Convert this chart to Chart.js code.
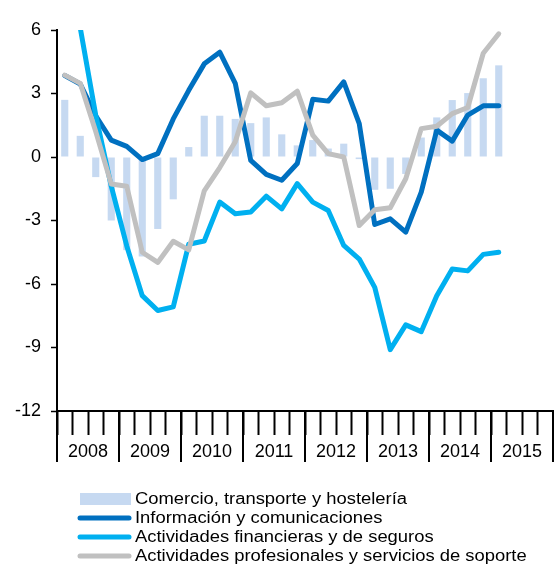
<!DOCTYPE html>
<html>
<head>
<meta charset="utf-8">
<script src="https://cdn.jsdelivr.net/npm/chart.js@4/dist/chart.umd.min.js"></script>
<style>
  html, body { margin: 0; padding: 0; background: #fff; }
  #wrap { width: 554px; height: 568px; position: relative; }
</style>
</head>
<body>
<div id="wrap"><canvas id="chart"></canvas></div>
<script>
// quarterly data, 2008 T1 .. 2015 T1
const years = ['2008', '2009', '2010', '2011', '2012', '2013', '2014', '2015'];
const quarters = years.flatMap(y => ['T1', 'T2', 'T3', 'T4'].map(q => y + q));

const comercio = [2.7, 1.0, -0.95, -3.0, -4.4, -4.7, -3.4, -2.0, 0.47, 1.95, 1.95, 1.8, 1.6, 1.87, 1.07, 0.55, 0.8, 0.4, 0.63, -0.1, -1.55, -1.5, -0.8, 0.92, 1.87, 2.69, 3.02, 3.72, 4.33];
const informacion = [3.85, 3.45, 1.95, 0.8, 0.5, -0.12, 0.16, 1.8, 3.15, 4.4, 4.95, 3.48, -0.16, -0.82, -1.1, -0.31, 2.73, 2.64, 3.55, 1.58, -3.19, -2.92, -3.55, -1.66, 1.27, 0.75, 1.98, 2.42, 2.42];
const financieras = [null, 6.1, 1.97, -1.38, -4.2, -6.55, -7.25, -7.08, -4.12, -3.97, -2.13, -2.68, -2.6, -1.85, -2.45, -1.26, -2.13, -2.53, -4.18, -4.82, -6.16, -9.1, -7.93, -8.25, -6.55, -5.29, -5.38, -4.6, -4.5];
const profesionales = [3.87, 3.48, 1.2, -1.28, -1.38, -4.5, -4.98, -3.98, -4.39, -1.6, -0.5, 0.72, 3.03, 2.42, 2.56, 3.11, 1.03, 0.16, 0.0, -3.24, -2.49, -2.4, -1.03, 1.34, 1.45, 2.05, 2.34, 4.9, 5.82];

const yTicks = { min: -12, max: 6, step: 3 };

const COLOURS = {
  comercio: '#c6d9f1',
  informacion: '#0070c0',
  financieras: '#00b0f0',
  profesionales: '#c0c0c0',
};

const FONT = '"Liberation Sans", Arial, sans-serif';

// long ticks at year boundaries + legend underneath
const extrasPlugin = {
  id: 'extras',
  afterDraw(chart) {
    const ctx = chart.ctx;
    const x = chart.scales.x;
    const bottom = chart.chartArea.bottom;
    ctx.save();
    ctx.strokeStyle = '#000';
    ctx.lineWidth = 2;
    for (let k = 0; k <= years.length; k++) {
      const px = Math.round(x.getPixelForValue(k * 4 - 0.5));
      ctx.beginPath();
      ctx.moveTo(px, bottom);
      ctx.lineTo(px, bottom + 51);
      ctx.stroke();
    }

    const rows = [499, 518, 537, 556];
    const ds = chart.data.datasets;
    ctx.font = '16px ' + FONT;
    ctx.textBaseline = 'middle';
    ds.forEach((d, i) => {
      const y = rows[i];
      if (d.type === 'bar') {
        ctx.fillStyle = d.backgroundColor;
        ctx.fillRect(80, y - 6, 51, 12);
      } else {
        ctx.strokeStyle = d.borderColor;
        ctx.lineWidth = 5;
        ctx.lineCap = 'round';
        ctx.beginPath();
        ctx.moveTo(80, y);
        ctx.lineTo(129, y);
        ctx.stroke();
      }
      // the original text is a little stretched sideways
      ctx.save();
      ctx.translate(135, y + 1);
      ctx.scale(1.15, 1);
      ctx.fillStyle = '#000';
      ctx.fillText(d.label, 0, 0);
      ctx.restore();
    });
    ctx.restore();
  },
};

const lineDefaults = {
  type: 'line',
  borderWidth: 5,
  pointRadius: 0,
  tension: 0,
  fill: false,
  borderJoinStyle: 'round',
  borderCapStyle: 'round',
};

new Chart(document.getElementById('chart'), {
  data: {
    labels: quarters,
    datasets: [
      {
        type: 'bar',
        label: 'Comercio, transporte y hostelería',
        data: comercio,
        backgroundColor: COLOURS.comercio,
        categoryPercentage: 1,
        barPercentage: 0.46,
        order: 4,
      },
      { ...lineDefaults, label: 'Información y comunicaciones', data: informacion, borderColor: COLOURS.informacion, order: 3 },
      { ...lineDefaults, label: 'Actividades financieras y de seguros', data: financieras, borderColor: COLOURS.financieras, order: 2 },
      { ...lineDefaults, label: 'Actividades profesionales y servicios de soporte', data: profesionales, borderColor: COLOURS.profesionales, order: 1 },
    ],
  },
  options: {
    responsive: true,
    maintainAspectRatio: false,
    animation: false,
    layout: { padding: { top: 30, right: 1, left: 0, bottom: 0 } },
    plugins: {
      legend: { display: false },
      tooltip: { enabled: false },
    },
    scales: {
      x: {
        type: 'category',
        offset: true,
        afterFit: s => { s.height = 157; },
        grid: {
          offset: true,
          drawOnChartArea: false,
          tickLength: 24,
          tickWidth: 2,
          tickColor: '#000',
          color: '#000',
        },
        border: { color: '#000', width: 2 },
        ticks: {
          autoSkip: false,
          maxRotation: 0,
          padding: 6,
          labelOffset: -7.75,
          color: '#000',
          font: { family: FONT, size: 18 },
          callback: (v, i) => (i % 4 === 2 ? years[Math.floor(i / 4)] : ''),
        },
      },
      y: {
        min: yTicks.min,
        max: yTicks.max,
        afterFit: s => { s.width = 57; },
        grid: {
          drawOnChartArea: false,
          tickLength: 6,
          tickWidth: 1.5,
          tickColor: '#000',
        },
        border: { color: '#000', width: 2 },
        ticks: {
          stepSize: yTicks.step,
          padding: 10,
          color: '#000',
          font: { family: FONT, size: 18 },
        },
      },
    },
  },
  plugins: [extrasPlugin],
});
</script>
</body>
</html>
